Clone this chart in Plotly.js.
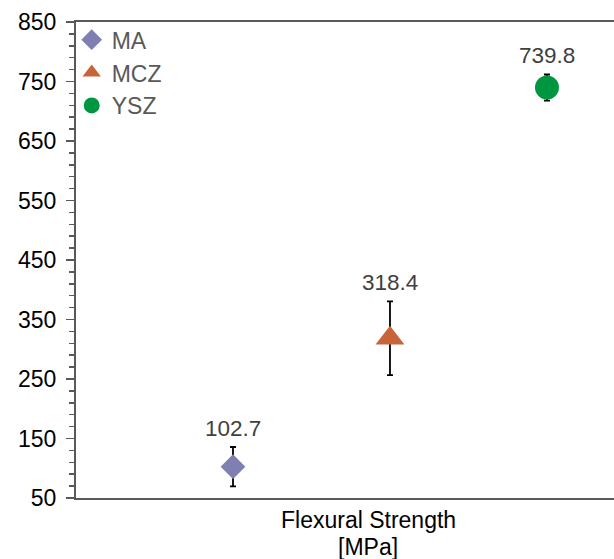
<!DOCTYPE html>
<html>
<head>
<meta charset="utf-8">
<script src="https://cdn.plot.ly/plotly-3.0.1.min.js"></script>
<style>html,body{margin:0;padding:0;background:#fff;overflow:hidden}#chart{width:614px;height:559px}</style>
</head>
<body>
<div id="chart"></div>
<script>
const series = ['MA', 'MCZ', 'YSZ'];
const means = [102.7, 318.4, 739.8];
const errs = [33, 62, 22];
const colors = ['#7F7FB2', '#C8643A', '#00963F'];
const symbols = ['diamond', 'triangle-up', 'circle'];
const sizes = [19, 25, 24];
const yTicks = [50, 150, 250, 350, 450, 550, 650, 750, 850];
const xTitleLines = ['Flexural Strength', '[MPa]'];

const FONT = 'Liberation Sans, Arial, sans-serif';

const traces = series.map((name, i) => ({
  type: 'scatter',
  mode: 'markers',
  name: name,
  x: [name],
  y: [means[i]],
  error_y: {type: 'data', array: [errs[i]], visible: true, color: '#000000', thickness: 1.8, width: 3},
  marker: {symbol: symbols[i], size: sizes[i], color: colors[i], line: {width: 0}},
  hoverinfo: 'skip'
}));

const labelAnn = series.map((name, i) => ({
  x: name, y: means[i] + errs[i], xref: 'x', yref: 'y',
  text: means[i].toFixed(1), showarrow: false,
  yanchor: 'bottom', yshift: 4,
  font: {family: FONT, size: 22.5, color: '#404040'}
}));

const titleAnn = xTitleLines.map((t, i) => ({
  xref: 'paper', yref: 'paper', x: 0.543, y: 0, xanchor: 'center', yanchor: 'middle',
  yshift: -22 - i * 27,
  text: t, showarrow: false,
  font: {family: FONT, size: 23, color: '#000000'}
}));

const layout = {
  width: 614, height: 559,
  margin: {l: 76, r: 0, t: 22, b: 61},
  paper_bgcolor: '#ffffff', plot_bgcolor: '#ffffff',
  font: {family: FONT, size: 22, color: '#000000'},
  showlegend: true,
  legend: {x: -0.008, y: 1.008, xanchor: 'left', yanchor: 'top', bgcolor: 'rgba(0,0,0,0)',
           font: {family: FONT, size: 23, color: '#595959'}},
  xaxis: {
    type: 'category', categoryorder: 'array', categoryarray: series,
    range: [-1, 2.427], showticklabels: false, ticks: '', showgrid: false, zeroline: false,
    showline: true, linecolor: '#595959', linewidth: 2, mirror: true, fixedrange: true
  },
  yaxis: {
    range: [50, 850], tickmode: 'array', tickvals: yTicks, ticktext: yTicks.map(String),
    ticks: 'outside', ticklen: 8, tickwidth: 1.5, tickcolor: '#595959',
    minor: {dtick: 20, tick0: 50, ticks: 'outside', ticklen: 5, tickwidth: 1.5, tickcolor: '#595959', showgrid: false},
    ticklabelstandoff: 5,
    showgrid: false, zeroline: false, showline: true, linecolor: '#595959', linewidth: 2,
    tickfont: {family: FONT, size: 23, color: '#000000'}, fixedrange: true
  },
  yaxis2: {
    overlaying: 'y', side: 'left', range: [50, 850], tickmode: 'array', tickvals: yTicks,
    ticks: 'inside', ticklen: 6, tickwidth: 1.5, tickcolor: '#595959',
    showticklabels: false, showgrid: false, zeroline: false, showline: false, fixedrange: true
  },
  annotations: labelAnn.concat(titleAnn)
};

Plotly.newPlot('chart', traces, layout, {displayModeBar: false, staticPlot: true});
</script>
</body>
</html>
